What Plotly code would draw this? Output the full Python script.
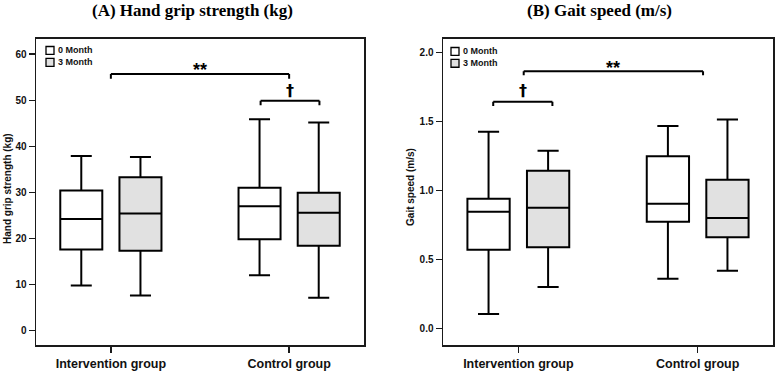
import plotly.graph_objects as go

# ---------------- data ----------------
groups = ["Intervention group", "Control group"]
months = ["0 Month", "3 Month"]
month_fills = ["white", "#e1e1e1"]

# Panel A: hand grip strength (kg), values per group [Intervention, Control]
grip_0m_lower = [9.8, 12.0]
grip_0m_q1 = [17.6, 19.8]
grip_0m_median = [24.2, 27.0]
grip_0m_q3 = [30.4, 31.0]
grip_0m_upper = [37.9, 45.9]

grip_3m_lower = [7.6, 7.1]
grip_3m_q1 = [17.3, 18.4]
grip_3m_median = [25.4, 25.6]
grip_3m_q3 = [33.3, 29.9]
grip_3m_upper = [37.7, 45.2]

# Panel B: gait speed (m/s)
gait_0m_lower = [0.105, 0.36]
gait_0m_q1 = [0.569, 0.772]
gait_0m_median = [0.846, 0.903]
gait_0m_q3 = [0.939, 1.247]
gait_0m_upper = [1.424, 1.467]

gait_3m_lower = [0.30, 0.418]
gait_3m_q1 = [0.588, 0.66]
gait_3m_median = [0.875, 0.80]
gait_3m_q3 = [1.142, 1.078]
gait_3m_upper = [1.288, 1.513]

grip_ticks = [0, 10, 20, 30, 40, 50, 60]
gait_ticks = [0.0, 0.5, 1.0, 1.5, 2.0]

# significance brackets
grip_sig_labels = ["**", "†"]
grip_sig_x0 = [0.0, 0.84]
grip_sig_x1 = [1.0, 1.17]
grip_sig_y = [55.7, 49.9]
grip_sig_text_y = [56.5, 52.2]

gait_sig_labels = ["**", "†"]
gait_sig_x0 = [0.03, -0.14]
gait_sig_x1 = [1.03, 0.19]
gait_sig_y = [1.864, 1.642]
gait_sig_text_y = [1.885, 1.727]

# ---------------- figure ----------------
W, H = 778, 371
positions = list(range(len(groups)))
SANS = "Liberation Sans, Arial, sans-serif"
SERIF = "Liberation Serif, Times New Roman, serif"

fig = go.Figure()

panel_data = [
    ("x", "y", [
        (grip_0m_lower, grip_0m_q1, grip_0m_median, grip_0m_q3, grip_0m_upper),
        (grip_3m_lower, grip_3m_q1, grip_3m_median, grip_3m_q3, grip_3m_upper),
    ]),
    ("x2", "y2", [
        (gait_0m_lower, gait_0m_q1, gait_0m_median, gait_0m_q3, gait_0m_upper),
        (gait_3m_lower, gait_3m_q1, gait_3m_median, gait_3m_q3, gait_3m_upper),
    ]),
]

for xa, ya, series in panel_data:
    for (lo, q1, med, q3, hi), name, fill in zip(series, months, month_fills):
        fig.add_trace(go.Box(
            x=positions, lowerfence=lo, q1=q1, median=med, q3=q3, upperfence=hi,
            name=name, fillcolor=fill, line=dict(color="black", width=2),
            whiskerwidth=0.5, boxpoints=False, offsetgroup=name,
            xaxis=xa, yaxis=ya, showlegend=False, hoverinfo="skip",
        ))

def px_x(p):
    return p / W

def px_y(p):
    return 1 - p / H

axis_common = dict(
    showline=True, mirror=True, linecolor="#1a1a1a", linewidth=1.5,
    ticks="outside", ticklen=6, tickwidth=1.5, tickcolor="#1a1a1a",
    showgrid=False, zeroline=False, fixedrange=True,
)

xtickfont = dict(family=SANS, size=12.5, color="#111", weight="bold")
ytickfont = dict(family=SANS, size=10, color="#111", weight="bold")

fig.update_layout(
    width=W, height=H, autosize=False,
    margin=dict(l=0, r=0, t=0, b=0),
    paper_bgcolor="white", plot_bgcolor="white",
    boxmode="group", boxgap=0.336, boxgroupgap=0.29,
    showlegend=False,
    xaxis=dict(domain=[px_x(36), px_x(364)], range=[-0.42, 1.42],
               tickvals=positions, ticktext=groups,
               tickfont=xtickfont, **axis_common),
    yaxis=dict(domain=[px_y(349), px_y(39)], range=[-3.2, 63.4],
               tickvals=grip_ticks, tickfont=ytickfont, **axis_common),
    xaxis2=dict(domain=[px_x(443), px_x(773)], range=[-0.42, 1.42], anchor="y2",
                tickvals=positions, ticktext=groups,
                tickfont=xtickfont, **axis_common),
    yaxis2=dict(domain=[px_y(349), px_y(39)], range=[-0.122, 2.1], anchor="x2",
                tickvals=gait_ticks, tickformat=".1f", tickfont=ytickfont, **axis_common),
)

annotations = []
shapes = []

# titles
annotations.append(dict(text="<b>(A) Hand grip strength (kg)</b>", x=px_x(192), y=px_y(11),
                        xref="paper", yref="paper", showarrow=False, xanchor="center", yanchor="middle",
                        font=dict(family=SERIF, size=17, color="black")))
annotations.append(dict(text="<b>(B) Gait speed (m/s)</b>", x=px_x(599), y=px_y(11),
                        xref="paper", yref="paper", showarrow=False, xanchor="center", yanchor="middle",
                        font=dict(family=SERIF, size=17, color="black")))
# y titles
annotations.append(dict(text="<b>Hand grip strength (kg)</b>", x=px_x(8), y=px_y(191),
                        xref="paper", yref="paper", showarrow=False, textangle=-90,
                        xanchor="center", yanchor="middle",
                        font=dict(family=SANS, size=10, color="#111")))
annotations.append(dict(text="<b>Gait speed (m/s)</b>", x=px_x(411), y=px_y(189),
                        xref="paper", yref="paper", showarrow=False, textangle=-90,
                        xanchor="center", yanchor="middle",
                        font=dict(family=SANS, size=10, color="#111")))

# custom legends
for left, top in [(46, 47), (451, 48)]:
    for i, (name, fill) in enumerate(zip(months, month_fills)):
        y0 = top + i * 12
        shapes.append(dict(type="rect", xref="paper", yref="paper",
                           x0=px_x(left), x1=px_x(left + 8), y0=px_y(y0 + 8), y1=px_y(y0),
                           line=dict(color="black", width=1.3), fillcolor=fill))
        annotations.append(dict(text="<b>" + name + "</b>", x=px_x(left + 9.5), y=px_y(y0 + 4),
                                xref="paper", yref="paper", showarrow=False,
                                xanchor="left", yanchor="middle",
                                font=dict(family=SANS, size=9, color="#111")))

# significance brackets
def add_brackets(xr, yr, labels, x0s, x1s, ys, tys, drop):
    for lab, x0, x1, yv, ty in zip(labels, x0s, x1s, ys, tys):
        line = dict(color="black", width=2)
        shapes.append(dict(type="line", xref=xr, yref=yr, x0=x0, x1=x1, y0=yv, y1=yv, line=line))
        shapes.append(dict(type="line", xref=xr, yref=yr, x0=x0, x1=x0, y0=yv, y1=yv - drop, line=line))
        shapes.append(dict(type="line", xref=xr, yref=yr, x0=x1, x1=x1, y0=yv, y1=yv - drop, line=line))
        is_star = lab == "**"
        annotations.append(dict(text="<b>" + lab + "</b>",
                                x=(x0 + x1) / 2, y=ty, xref=xr, yref=yr, showarrow=False,
                                xanchor="center", yanchor="middle",
                                font=dict(family=SANS if is_star else "DejaVu Sans",
                                          size=18 if is_star else 16, color="black")))

add_brackets("x", "y", grip_sig_labels, grip_sig_x0, grip_sig_x1, grip_sig_y, grip_sig_text_y, 1.0)
add_brackets("x2", "y2", gait_sig_labels, gait_sig_x0, gait_sig_x1, gait_sig_y, gait_sig_text_y, 0.03)

fig.update_layout(annotations=annotations, shapes=shapes)
fig.write_html("out.html", config={"displayModeBar": False, "staticPlot": True},
               post_script="document.body.style.margin='0px';")
